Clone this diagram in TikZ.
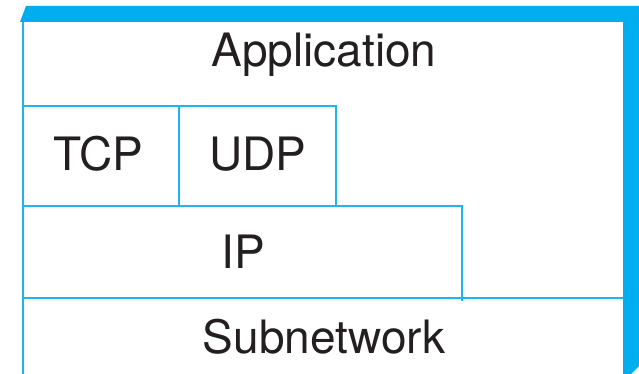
\documentclass[tikz,border=0pt]{standalone}
\usepackage{fontspec}
\setmainfont{TeX Gyre Heros}
\definecolor{bandcyan}{HTML}{00AEEF}
\definecolor{linecyan}{HTML}{1FB5EC}
\definecolor{txt}{HTML}{231F20}
\begin{document}
\begin{tikzpicture}[x=1pt,y=-1pt,
  layerline/.style={draw=linecyan,line width=2.2pt},
  layerlabel/.style={anchor=base,inner sep=0pt,text=txt,font=\fontsize{46}{50}\selectfont}]
\useasboundingbox (0,0) rectangle (639,374);
% 3D band (top and right faces)
\fill[bandcyan] (20,22) -- (26,6) -- (639,6) -- (639,366) -- (631,374) -- (623,374) -- (623,22) -- cycle;
% front face edges and layer boundaries
\draw[layerline] (23,22) -- (23,375);
\draw[layerline] (23,106) -- (336,106) -- (336,206);
\draw[layerline] (179,106) -- (179,206);
\draw[layerline] (23,206) -- (462,206) -- (462,301);
\draw[layerline] (23,298) -- (623,298);
% labels
\node[layerlabel] (app) at (324,67) {Application};
\node[layerlabel] (tcp) at (98,171) {TCP};
\node[layerlabel] (udp) at (258,171) {UDP};
\node[layerlabel] (ip) at (243,268) {IP};
\node[layerlabel] (sub) at (324,353) {Subnetwork};
\end{tikzpicture}
\end{document}
